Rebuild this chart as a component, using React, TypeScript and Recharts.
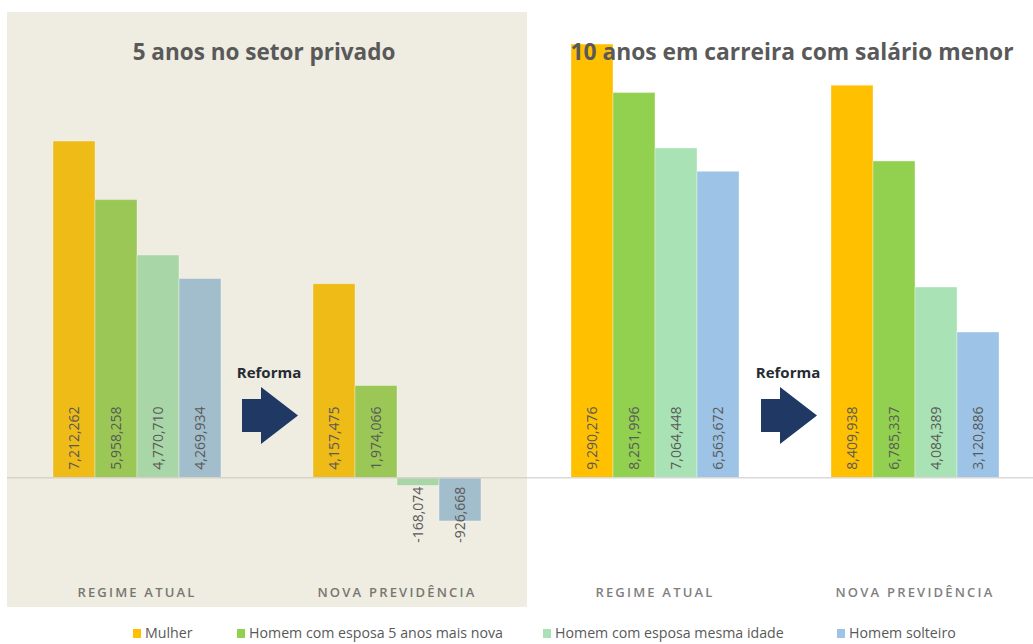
import React from 'react';
import { BarChart, Bar, XAxis, YAxis, ReferenceLine, LabelList } from 'recharts';

const categories = ['REGIME ATUAL', 'NOVA PREVIDÊNCIA'];
const seriesNames = ['Mulher', 'Homem com esposa 5 anos mais nova', 'Homem com esposa mesma idade', 'Homem solteiro'];

// 5 anos no setor privado
const privadoMulher = [7212262, 4157475];
const privadoEsposaNova = [5958258, 1974066];
const privadoMesmaIdade = [4770710, -168074];
const privadoSolteiro = [4269934, -926668];

// 10 anos em carreira com salário menor
const carreiraMulher = [9290276, 8409938];
const carreiraEsposaNova = [8251996, 6785337];
const carreiraMesmaIdade = [7064448, 4084389];
const carreiraSolteiro = [6563672, 3120886];

const leftColors = ['#EEBB17', '#9AC756', '#A9D6A6', '#A2BDCB'];
const rightColors = ['#FFC000', '#92D050', '#A9E2B4', '#9DC3E6'];
const keys = ['s0', 's1', 's2', 's3'];
const legendLeft = [133, 237, 543, 837];

const FONT = '"Open Sans", sans-serif';

const buildRows = (series: number[][]) =>
  categories.map((c, i) => {
    const row: any = { name: c };
    series.forEach((s, j) => { row[keys[j]] = s[i]; });
    return row;
  });

const privadoData = buildRows([privadoMulher, privadoEsposaNova, privadoMesmaIdade, privadoSolteiro]);
const carreiraData = buildRows([carreiraMulher, carreiraEsposaNova, carreiraMesmaIdade, carreiraSolteiro]);

const fmt = (v: number) => v.toLocaleString('en-US');

const ValueLabel = (props: any) => {
  const { x, y, width, height, value } = props;
  const cx = x + width / 2;
  let tx: number;
  let anchor: 'start' | 'end';
  if (value >= 0) {
    tx = y + height - 8;
    anchor = 'start';
  } else {
    tx = Math.min(y, y + height) + 9;
    anchor = 'end';
  }
  return (
    <text
      x={cx}
      y={tx}
      transform={`rotate(-90, ${cx}, ${tx})`}
      textAnchor={anchor}
      dominantBaseline="central"
      fontFamily={FONT}
      fontSize={14}
      fill="#595959"
    >
      {fmt(value)}
    </text>
  );
};

const CatTick = (props: any) => {
  const { x, y, payload, color } = props;
  return (
    <text
      x={x}
      y={y + 7}
      textAnchor="middle"
      dominantBaseline="central"
      fontFamily={FONT}
      fontSize={13}
      fontWeight={600}
      letterSpacing={2.2}
      fill={color}
    >
      {payload.value}
    </text>
  );
};

const PLOT_H = 574;
const CHART_H = PLOT_H + 30;

const Panel = ({ data, colors, tickColor, lineColor }: any) => (
  <BarChart
    width={520}
    height={CHART_H}
    data={data}
    margin={{ top: 0, right: 0, bottom: 0, left: 0 }}
    barSize={42}
    barGap={0}
  >
    <XAxis
      dataKey="name"
      axisLine={false}
      tickLine={false}
      tickSize={0}
      tickMargin={0}
      height={30}
      interval={0}
      tick={<CatTick color={tickColor} />}
    />
    <YAxis hide domain={[-2300000, 10000000]} />
    {keys.map((k, i) => (
      <Bar key={k} dataKey={k} name={seriesNames[i]} fill={colors[i]} stroke="rgba(255,255,255,0.35)" strokeWidth={1} isAnimationActive={false}>
        <LabelList dataKey={k} content={<ValueLabel />} />
      </Bar>
    ))}
    <ReferenceLine y={0} stroke={lineColor} strokeWidth={1.5} />
  </BarChart>
);

const Arrow = ({ x, label }: { x: number; label: string }) => (
  <>
    <div style={{ position: 'absolute', left: x - 40, width: 80, top: 360, textAlign: 'center', fontFamily: FONT, fontWeight: 700, fontSize: 15, color: '#262B33', lineHeight: '24px' }}>
      {label}
    </div>
    <svg style={{ position: 'absolute', left: x - 27, top: 386 }} width={60} height={62}>
      <polygon points="0,13 19,13 19,1 56,29.5 19,58 19,46 0,46" fill="#1F3864" />
    </svg>
  </>
);

const App: React.FC = () => {
  return (
    <div style={{ position: 'absolute', left: 0, top: 0, width: 1033, height: 644, overflow: 'hidden', background: '#fff' }}>
      <div style={{ position: 'absolute', left: 7, top: 12, width: 520, height: 595, background: '#EFECE1' }} />
      <div style={{ position: 'absolute', left: 7, top: 11 }}>
        <Panel data={privadoData} colors={leftColors} tickColor="#77776E" lineColor="#D6D3C8" />
      </div>
      <div style={{ position: 'absolute', left: 527, top: 11, width: 506, height: CHART_H, overflow: 'hidden' }}>
        <div style={{ position: 'absolute', left: -2, top: 0 }}>
          <Panel data={carreiraData} colors={rightColors} tickColor="#7F7F7F" lineColor="#D9D9D9" />
        </div>
      </div>

      <div style={{ position: 'absolute', left: 7, width: 520, top: 36, textAlign: 'center', fontFamily: FONT, fontWeight: 700, fontSize: 22.5, color: '#595959', lineHeight: '32px' }}>
        <span style={{ position: 'relative', left: -3 }}>5 anos no setor privado</span>
      </div>
      <div style={{ position: 'absolute', left: 540, width: 504, top: 36, textAlign: 'center', fontFamily: FONT, fontWeight: 700, fontSize: 22.8, color: '#595959', lineHeight: '32px' }}>
        10 anos em carreira com salário menor
      </div>

      <Arrow x={269} label="Reforma" />
      <Arrow x={788} label="Reforma" />

      {seriesNames.map((n, i) => (
        <div key={n} style={{ position: 'absolute', left: legendLeft[i], top: 623, display: 'flex', alignItems: 'center', fontFamily: FONT, fontSize: 14.2, color: '#595959', whiteSpace: 'nowrap', lineHeight: '20px' }}>
          <span style={{ display: 'inline-block', width: 8, height: 9, background: rightColors[i], marginRight: 4 }} />
          <span>{n}</span>
        </div>
      ))}
    </div>
  );
};

export default App;
